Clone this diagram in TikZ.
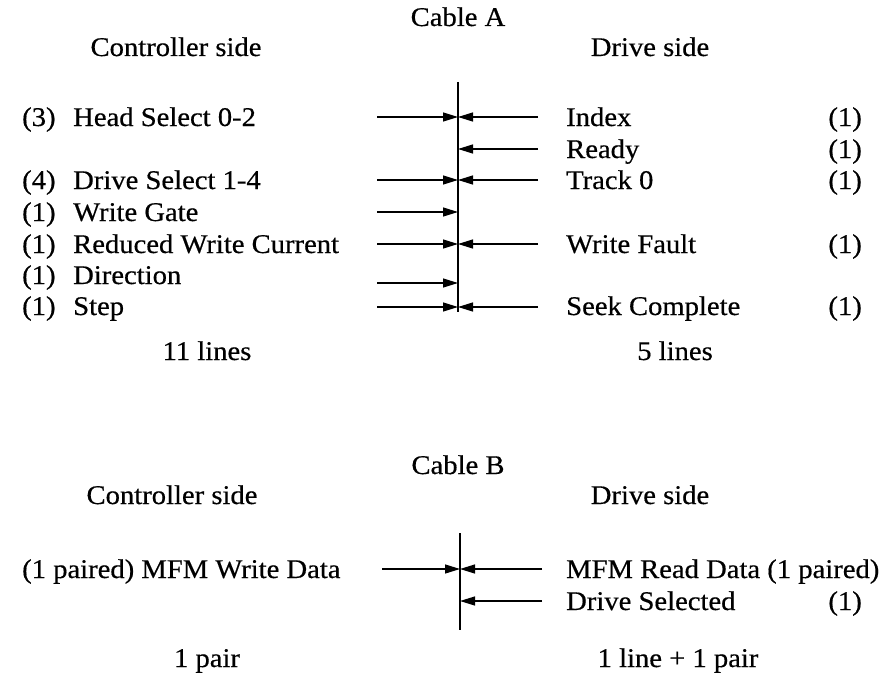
\documentclass[tikz,border=0pt]{standalone}
\usepackage{fontspec}
\setmainfont{Liberation Serif}[FakeStretch=1.06,FakeBold=0.5]
\usetikzlibrary{arrows.meta}
\newcommand{\dfs}{\fontsize{27}{31}\selectfont}
\begin{document}
\begin{tikzpicture}[x=1pt,y=-1pt,
  lbl/.style={inner sep=0pt, anchor=base west, font=\dfs},
  rlbl/.style={inner sep=0pt, anchor=base east, font=\dfs},
  ttl/.style={inner sep=0pt, anchor=base, font=\dfs},
  bus/.style={line width=1.8pt},
  sig/.style={line width=1.3pt, -{Triangle[length=15pt,width=9pt]}}]
\useasboundingbox (0,0) rectangle (888,682);
% ---------------- Cable A ----------------
\node[ttl] (cA) at (458,26) {Cable A};
\node[ttl] (csA) at (176,56) {Controller side};
\node[ttl] (dsA) at (650,56) {Drive side};
\coordinate (aTop) at (458,82);
\coordinate (aBot) at (458,312);
\draw[bus] (aTop) -- (aBot);
% left labels
\node[lbl] (n1) at (22,126) {(3)};
\node[lbl] (l1) at (73,126) {Head Select 0-2};
\node[lbl] (n3) at (22,189) {(4)};
\node[lbl] (l3) at (73,189) {Drive Select 1-4};
\node[lbl] (n4) at (22,221) {(1)};
\node[lbl] (l4) at (73,221) {Write Gate};
\node[lbl] (n5) at (22,253) {(1)};
\node[lbl] (l5) at (73,253) {Reduced Write Current};
\node[lbl] (n6) at (22,284) {(1)};
\node[lbl] (l6) at (73,284) {Direction};
\node[lbl] (n7) at (22,315) {(1)};
\node[lbl] (l7) at (73,315) {Step};
% right labels
\node[lbl] (r1) at (566,126) {Index};
\node[rlbl] (m1) at (862,126) {(1)};
\node[lbl] (r2) at (566,158) {Ready};
\node[rlbl] (m2) at (862,158) {(1)};
\node[lbl] (r3) at (566,189) {Track 0};
\node[rlbl] (m3) at (862,189) {(1)};
\node[lbl] (r5) at (566,253) {Write Fault};
\node[rlbl] (m5) at (862,253) {(1)};
\node[lbl] (r7) at (566,315) {Seek Complete};
\node[rlbl] (m7) at (862,315) {(1)};
% connector coordinates
\foreach \k/\y in {1/117,3/180,4/212,5/244,6/283,7/307}{
  \coordinate (aL\k) at (377,\y);
  \coordinate (aM\k) at (458,\y);
}
\foreach \k/\y in {1/117,2/149,3/180,5/244,7/307}{
  \coordinate (aR\k) at (538,\y);
  \coordinate (aN\k) at (458,\y);
}
\foreach \k in {1,3,4,5,6,7}{ \draw[sig] (aL\k) -- (aM\k); }
\foreach \k in {1,2,3,5,7}{ \draw[sig] (aR\k) -- (aN\k); }
\node[ttl] (tA1) at (207,360) {11 lines};
\node[ttl] (tA2) at (675,360) {5 lines};
% ---------------- Cable B ----------------
\node[ttl] (cB) at (458,474) {Cable B};
\node[ttl] (csB) at (172,504) {Controller side};
\node[ttl] (dsB) at (650,504) {Drive side};
\coordinate (bTop) at (460,533);
\coordinate (bBot) at (460,630);
\draw[bus] (bTop) -- (bBot);
\node[lbl] (bl1) at (22,578) {(1 paired) MFM Write Data};
\node[lbl] (br1) at (566,578) {MFM Read Data (1 paired)};
\node[lbl] (br2) at (566,610) {Drive Selected};
\node[rlbl] (bm2) at (862,610) {(1)};
\coordinate (bL1) at (382,569);
\coordinate (bM1) at (460,569);
\coordinate (bR1) at (542,569);
\coordinate (bR2) at (542,601);
\coordinate (bM2) at (460,601);
\draw[sig] (bL1) -- (bM1);
\draw[sig] (bR1) -- (bM1);
\draw[sig] (bR2) -- (bM2);
\node[ttl] (tB1) at (207,667) {1 pair};
\node[ttl] (tB2) at (678,667) {1 line + 1 pair};
\end{tikzpicture}
\end{document}
